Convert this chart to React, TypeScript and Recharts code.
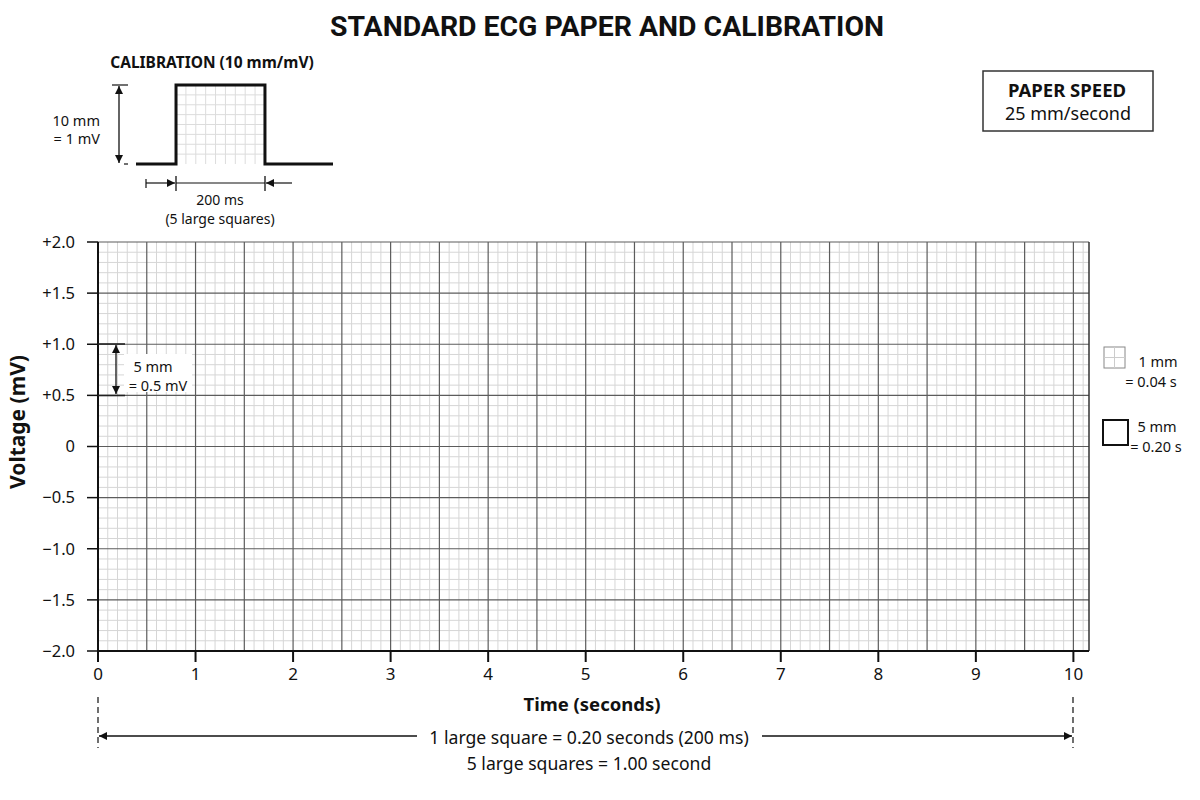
import React from 'react'
import { Line, LineChart, ReferenceLine, XAxis, YAxis } from 'recharts'

// Standard ECG paper: empty grid (0–10 s, ±2 mV) with a 1 mV / 200 ms calibration pulse.

const timeTicks = [0, 1, 2, 3, 4, 5, 6, 7, 8, 9, 10]
const voltTicks = [-2, -1.5, -1, -0.5, 0, 0.5, 1, 1.5, 2]
const voltLabels = ['−2.0', '−1.5', '−1.0', '−0.5', '0', '+0.5', '+1.0', '+1.5', '+2.0']
const timeDomain = [0, 10.16]
const voltDomain = [-2, 2]

// calibration pulse (seconds, mV)
const calTime = [-0.09, 0, 0, 0.2, 0.2, 0.353]
const calVolt = [0, 0, 1, 1, 0, 0]

const FONT = "'Noto Sans', 'Open Sans', sans-serif"
const INK = '#111'
const MINOR = '#d6d6d6'
const MAJOR = '#5c5c5c'

// paper lines: 0.1 s / 0.1 mV small boxes, every fifth is a large box
const minorTime: number[] = []
const majorTime: number[] = []
for (let i = 0; i <= 101; i++) (i % 5 === 0 ? majorTime : minorTime).push(i / 10)
const minorVolt: number[] = []
const majorVolt: number[] = []
for (let i = -20; i <= 20; i++) (i % 5 === 0 ? majorVolt : minorVolt).push(i / 10)

const calData = calTime.map((t, i) => ({ t, v: calVolt[i] }))
const calGridX = [1, 2, 3, 4, 5, 6, 7, 8].map((k) => (k * 0.2) / 9)
const calGridY = [1, 2, 3, 4, 5, 6, 7].map((k) => k * 0.125)

function voltLabel(v: number) {
  const i = voltTicks.indexOf(v)
  return i >= 0 ? voltLabels[i] : String(v)
}

function PaperChart() {
  return (
    <LineChart
      width={1200}
      height={800}
      data={[]}
      margin={{ top: 242, right: 111, bottom: 119, left: 38 }}
    >
      {minorTime.map((t) => (
        <ReferenceLine key={`mt${t}`} x={t} stroke={MINOR} strokeWidth={1} />
      ))}
      {minorVolt.map((v) => (
        <ReferenceLine key={`mv${v}`} y={v} stroke={MINOR} strokeWidth={1} />
      ))}
      {majorTime.map((t) => (
        <ReferenceLine key={`Mt${t}`} x={t} stroke={MAJOR} strokeWidth={1.2} />
      ))}
      {majorVolt.map((v) => (
        <ReferenceLine key={`Mv${v}`} y={v} stroke={MAJOR} strokeWidth={1.2} />
      ))}
      <ReferenceLine x={timeDomain[1]} stroke="#333" strokeWidth={1.5} />
      <XAxis
        dataKey="t"
        type="number"
        domain={timeDomain}
        ticks={timeTicks}
        allowDataOverflow
        height={30}
        tickSize={11}
        tickMargin={6}
        stroke={INK}
        strokeWidth={2}
        tick={{ fill: INK, fontSize: 17, fontFamily: FONT }}
        tickLine={{ stroke: INK, strokeWidth: 2 }}
      />
      <YAxis
        type="number"
        domain={voltDomain}
        ticks={voltTicks}
        allowDataOverflow
        width={60}
        tickSize={11}
        tickMargin={12}
        stroke={INK}
        strokeWidth={2}
        tickFormatter={voltLabel}
        tick={{ fill: INK, fontSize: 16.5, fontFamily: FONT }}
        tickLine={{ stroke: INK, strokeWidth: 1.5 }}
      />
    </LineChart>
  )
}

function CalibrationChart() {
  return (
    <LineChart width={200} height={90} data={calData} margin={{ top: 5, right: 3, bottom: 6, left: 0 }}>
      <XAxis dataKey="t" type="number" domain={[calTime[0], calTime[calTime.length - 1]]} hide />
      <YAxis type="number" domain={[0, 1]} hide />
      {calGridX.map((x) => (
        <ReferenceLine
          key={`cx${x}`}
          segment={[{ x, y: 0 }, { x, y: 1 }]}
          stroke={x > 0.09 && x < 0.1 ? '#c4c4c4' : '#dcdcdc'}
        />
      ))}
      {calGridY.map((y) => (
        <ReferenceLine key={`cy${y}`} segment={[{ x: 0, y }, { x: 0.2, y }]} stroke="#dcdcdc" />
      ))}
      <Line
        dataKey="v"
        type="linear"
        stroke={INK}
        strokeWidth={3}
        dot={false}
        strokeLinejoin="miter"
        isAnimationActive={false}
      />
    </LineChart>
  )
}

function Annotations() {
  const txt = { fontFamily: FONT, fill: INK, textAnchor: 'middle' as const, dominantBaseline: 'central' as const }
  return (
    <svg width={1200} height={800} style={{ position: 'absolute', left: 0, top: 0, pointerEvents: 'none' }}>
      <defs>
        <marker id="arr" viewBox="0 0 10 10" refX="10" refY="5" markerWidth="10" markerHeight="8" markerUnits="userSpaceOnUse" orient="auto-start-reverse">
          <path d="M0,0 L10,5 L0,10 z" fill={INK} />
        </marker>
      </defs>

      <text x={607} y={27} fontSize={27} fontWeight={700} {...txt} fontFamily="Roboto, sans-serif" textLength={554} lengthAdjust="spacingAndGlyphs">
        STANDARD ECG PAPER AND CALIBRATION
      </text>

      {/* calibration block */}
      <text x={212} y={62} fontSize={15.5} fontWeight={700} {...txt}>
        CALIBRATION (10 mm/mV)
      </text>
      <line x1={112} x2={128} y1={85} y2={85} stroke={INK} strokeWidth={1.2} />
      <line x1={124} x2={128} y1={164} y2={164} stroke={INK} strokeWidth={1.2} />
      <line x1={119} x2={119} y1={86} y2={163} stroke={INK} strokeWidth={1.3} markerStart="url(#arr)" markerEnd="url(#arr)" />
      <text x={100} y={120} fontSize={14.5} {...txt} textAnchor="end">10 mm</text>
      <text x={100} y={138} fontSize={14.5} {...txt} textAnchor="end">= 1 mV</text>

      <line x1={146} x2={146} y1={179} y2={188} stroke={INK} strokeWidth={1.2} />
      <line x1={146} x2={175} y1={183} y2={183} stroke={INK} strokeWidth={1.2} markerEnd="url(#arr)" />
      <line x1={176} x2={176} y1={176} y2={191} stroke={INK} strokeWidth={1.3} />
      <line x1={265} x2={265} y1={176} y2={191} stroke={INK} strokeWidth={1.3} />
      <line x1={176} x2={265} y1={183} y2={183} stroke={INK} strokeWidth={1.2} />
      <line x1={292} x2={266} y1={183} y2={183} stroke={INK} strokeWidth={1.2} markerEnd="url(#arr)" />
      <text x={220} y={199} fontSize={14} {...txt}>200 ms</text>
      <text x={220} y={218} fontSize={14} {...txt}>(5 large squares)</text>

      {/* paper speed */}
      <rect x={983} y={71} width={170} height={60} fill="#fff" stroke="#333" strokeWidth={1.5} />
      <text x={1067} y={89} fontSize={18.5} fontWeight={700} {...txt}>PAPER SPEED</text>
      <text x={1068} y={113} fontSize={18} {...txt}>25 mm/second</text>

      {/* square legend */}
      <rect x={1104} y={347} width={21} height={21} fill="#fff" stroke="#888" strokeWidth={1} />
      <line x1={1114.5} x2={1114.5} y1={347} y2={368} stroke="#ccc" />
      <line x1={1104} x2={1125} y1={357.5} y2={357.5} stroke="#ccc" />
      <text x={1158} y={361} fontSize={14.5} {...txt}>1 mm</text>
      <text x={1151} y={381} fontSize={14.5} {...txt}>= 0.04 s</text>
      <rect x={1103} y={420} width={25} height={25} fill="#fff" stroke={INK} strokeWidth={2} />
      <text x={1157} y={426} fontSize={14.5} {...txt}>5 mm</text>
      <text x={1156} y={446} fontSize={14.5} {...txt}>= 0.20 s</text>

      {/* 5 mm = 0.5 mV on the grid */}
      <line x1={98} x2={125} y1={344} y2={344} stroke="#222" strokeWidth={1.6} />
      <line x1={98} x2={125} y1={395.5} y2={395.5} stroke="#222" strokeWidth={1.6} />
      <rect x={124} y={354} width={68} height={38} fill="#fff" />
      <line x1={116} x2={116} y1={345} y2={394} stroke={INK} strokeWidth={1.3} markerStart="url(#arr)" markerEnd="url(#arr)" />
      <text x={153} y={366} fontSize={14.5} {...txt}>5 mm</text>
      <text x={158} y={385} fontSize={14.5} {...txt}>= 0.5 mV</text>

      {/* axis titles */}
      <text x={17} y={422} fontSize={21} fontWeight={700} {...txt} transform="rotate(-90 17 422)">
        Voltage (mV)
      </text>
      <text x={592} y={703} fontSize={18.5} fontWeight={700} {...txt}>Time (seconds)</text>

      {/* bottom dimension */}
      <line x1={98} x2={98} y1={697} y2={748} stroke="#222" strokeWidth={1.3} strokeDasharray="6 4" />
      <line x1={1073} x2={1073} y1={697} y2={748} stroke="#222" strokeWidth={1.3} strokeDasharray="6 4" />
      <line x1={417} x2={99} y1={736} y2={736} stroke={INK} strokeWidth={1.3} markerEnd="url(#arr)" />
      <line x1={762} x2={1072} y1={736} y2={736} stroke={INK} strokeWidth={1.3} markerEnd="url(#arr)" />
      <text x={589} y={737} fontSize={17.6} {...txt}>1 large square = 0.20 seconds (200 ms)</text>
      <text x={589} y={763} fontSize={17.6} {...txt}>5 large squares = 1.00 second</text>
    </svg>
  )
}

export default function App() {
  return (
    <div style={{ position: 'relative', width: 1200, height: 800, background: '#fff', fontFamily: FONT }}>
      <style>{'body{margin:0;background:#fff}'}</style>
      <div style={{ position: 'absolute', left: 0, top: 0 }}>
        <PaperChart />
      </div>
      <div style={{ position: 'absolute', left: 136, top: 80 }}>
        <CalibrationChart />
      </div>
      <Annotations />
    </div>
  )
}
